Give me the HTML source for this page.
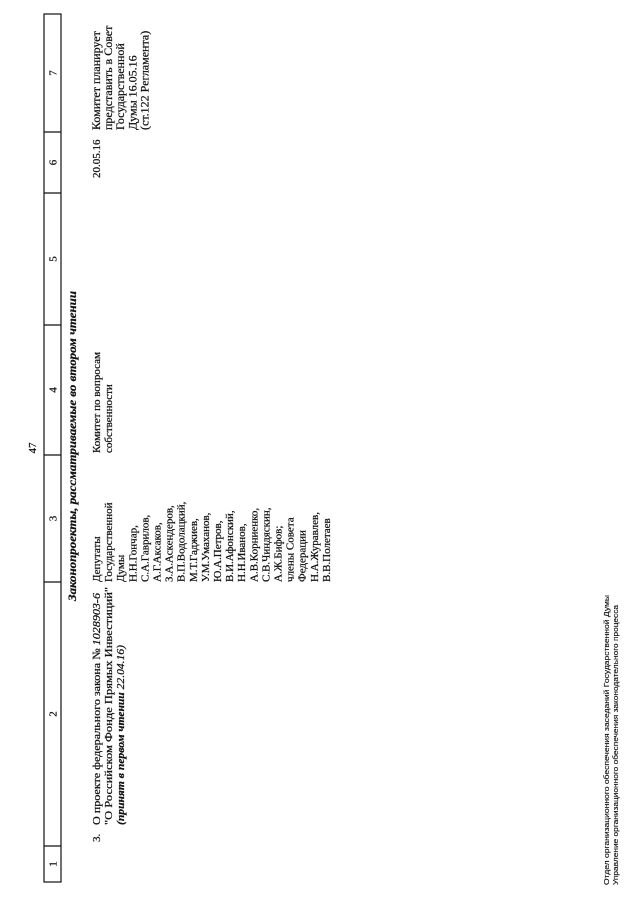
<!DOCTYPE html>
<html>
<head>
<meta charset="utf-8">
<style>
  html, body { margin: 0; padding: 0; background: #fff; }
  svg { display: block; }
  .t { font-family: "Liberation Serif", "DejaVu Serif", serif; font-size: 11px; fill: #111; stroke: #111; stroke-width: 0.25; }
  .bi { font-weight: bold; font-style: italic; }
  .i { font-style: italic; }
  .f { font-family: "Liberation Sans", "DejaVu Sans", sans-serif; font-size: 7px; fill: #111; stroke: #111; stroke-width: 0.15; }
</style>
</head>
<body>
<svg width="640" height="905" viewBox="0 0 640 905" xmlns="http://www.w3.org/2000/svg">
  <rect x="0" y="0" width="640" height="905" fill="#fff"/>
  <g transform="translate(0,905) rotate(-90)">
    <!-- page number -->
    <text class="t" x="457" y="36" text-anchor="middle">47</text>

    <!-- header table -->
    <g stroke="#111" stroke-width="1.2" fill="none">
      <rect x="23" y="44" width="868" height="17"/>
      <line x1="59" y1="44" x2="59" y2="61"/>
      <line x1="323" y1="44" x2="323" y2="61"/>
      <line x1="450" y1="44" x2="450" y2="61"/>
      <line x1="580" y1="44" x2="580" y2="61"/>
      <line x1="712" y1="44" x2="712" y2="61"/>
      <line x1="773" y1="44" x2="773" y2="61"/>
    </g>
    <g class="t" text-anchor="middle">
      <text x="41" y="56.5">1</text>
      <text x="191" y="56.5">2</text>
      <text x="386.5" y="56.5">3</text>
      <text x="515" y="56.5">4</text>
      <text x="646" y="56.5">5</text>
      <text x="742.5" y="56.5">6</text>
      <text x="832" y="56.5">7</text>
    </g>

    <!-- section heading -->
    <text class="t bi" x="304" y="76" textLength="310" lengthAdjust="spacingAndGlyphs" style="font-size:12px">Законопроекты, рассматриваемые во втором чтении</text>

    <!-- column 1/2 -->
    <text class="t" x="63" y="100">3.</text>
    <text class="t" x="80" y="100" textLength="232" lengthAdjust="spacingAndGlyphs">О проекте федерального закона № <tspan class="i">1028903-6</tspan></text>
    <text class="t" x="80" y="112.1" textLength="238" lengthAdjust="spacingAndGlyphs">"О Российском Фонде Прямых Инвестиций"</text>
    <text class="t" x="80" y="124.2" textLength="180" lengthAdjust="spacingAndGlyphs"><tspan class="bi">(принят в первом чтении </tspan><tspan class="i">22.04.16)</tspan></text>

    <!-- column 3 -->
    <g class="t">
      <text x="323" y="100">Депутаты</text>
      <text x="323" y="112.1">Государственной</text>
      <text x="323" y="124.2">Думы</text>
      <text x="323" y="136.3">Н.Н.Гончар,</text>
      <text x="323" y="148.4">С.А.Гаврилов,</text>
      <text x="323" y="160.5">А.Г.Аксаков,</text>
      <text x="323" y="172.6">З.А.Аскендеров,</text>
      <text x="323" y="184.7">В.П.Водолацкий,</text>
      <text x="323" y="196.8">М.Т.Гаджиев,</text>
      <text x="323" y="208.9">У.М.Умаханов,</text>
      <text x="323" y="221">Ю.А.Петров,</text>
      <text x="323" y="233.1">В.И.Афонский,</text>
      <text x="323" y="245.2">Н.Н.Иванов,</text>
      <text x="323" y="257.3">А.В.Корниенко,</text>
      <text x="323" y="269.4">С.В.Чиндяскин,</text>
      <text x="323" y="281.5">А.Ж.Бифов;</text>
      <text x="323" y="293.6">члены Совета</text>
      <text x="323" y="305.7">Федерации</text>
      <text x="323" y="317.8">Н.А.Журавлев,</text>
      <text x="323" y="329.9">В.В.Полетаев</text>
    </g>

    <!-- column 4 -->
    <g class="t">
      <text x="452" y="100">Комитет по вопросам</text>
      <text x="452" y="112.1">собственности</text>
    </g>

    <!-- column 6 -->
    <text class="t" x="727" y="100">20.05.16</text>

    <!-- column 7 -->
    <g class="t" style="font-size:12px">
      <text x="775" y="100">Комитет планирует</text>
      <text x="775" y="112.1">представить в Совет</text>
      <text x="775" y="124.2">Государственной</text>
      <text x="775" y="136.3">Думы 16.05.16</text>
      <text x="775" y="148.4">(ст.122 Регламента)</text>
    </g>

    <!-- footer -->
    <text class="f" x="20" y="609" textLength="290" lengthAdjust="spacingAndGlyphs">Отдел организационного обеспечения заседаний Государственной Думы</text>
    <text class="f" x="20" y="618" textLength="280" lengthAdjust="spacingAndGlyphs">Управление организационного обеспечения законодательного процесса</text>
  </g>
</svg>
</body>
</html>
